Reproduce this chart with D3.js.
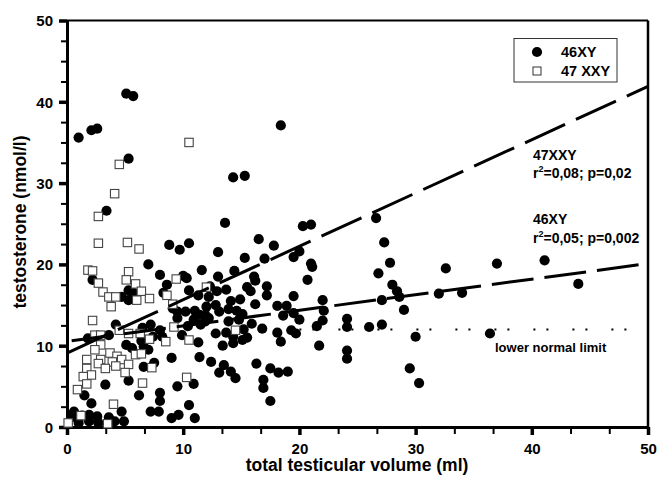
<!DOCTYPE html>
<html>
<head>
<meta charset="utf-8">
<script src="https://cdn.jsdelivr.net/npm/d3@7"></script>
<style>
  body { margin: 0; background: #fff; }
  svg { font-family: "Liberation Sans", Arial, sans-serif; font-weight: bold; }
</style>
</head>
<body>
<svg id="chart" width="658" height="480"></svg>
<script>
// tick values
const xTicks = [0, 10, 20, 30, 40, 50];
const yTicks = [0, 10, 20, 30, 40, 50];

// 46XY patients [volume, testosterone]
const pts46 = [
  [1.0,35.6],[2.1,36.5],[2.6,36.7],[5.1,41.0],[5.7,40.7],[5.3,33.0],[3.4,26.6],[14.3,30.7],[15.3,30.9],
  [13.6,25.1],[18.4,37.1],[20.3,24.7],[21.0,24.9],[26.6,25.7],[16.5,23.1],[17.8,22.3],[8.8,22.4],[10.5,22.6],
  [9.7,21.8],[13.0,21.5],[15.3,20.8],[7.0,20.0],[11.6,19.3],[8.0,18.7],[10.0,18.6],[10.3,18.3],[13.0,18.5],
  [14.4,19.2],[2.2,18.1],[8.6,17.5],[5.3,16.8],[5.7,16.5],[4.7,16.0],[5.3,15.6],[10.5,16.8],[8.3,16.5],
  [12.3,17.3],[12.9,16.7],[11.3,16.2],[12.2,16.0],[13.7,16.9],[14.1,15.5],[14.9,15.7],[15.5,17.2],[9.1,14.6],
  [9.5,14.2],[10.2,14.2],[9.5,13.4],[11.0,14.3],[12.0,14.8],[12.8,15.0],[13.1,14.2],[13.9,14.5],[14.6,14.3],
  [10.9,13.2],[12.2,13.4],[11.5,12.6],[10.4,12.4],[4.2,12.6],[7.2,12.6],[6.5,12.2],[8.0,11.9],[3.6,11.3],
  [1.8,10.9],[13.9,13.0],[14.8,13.2],[12.8,11.5],[13.7,11.6],[14.3,11.1],[9.9,11.3],[6.4,10.6],[7.4,11.1],
  [8.2,11.1],[5.1,10.1],[5.6,9.7],[6.6,9.9],[7.0,9.5],[11.3,10.4],[13.4,10.0],[14.3,10.3],[15.1,10.7],
  [15.5,11.0],[9.0,8.5],[11.4,8.6],[12.4,8.0],[6.6,7.4],[7.5,7.9],[13.5,7.6],[13.1,6.7],[14.1,6.8],
  [14.5,6.0],[5.3,5.7],[3.3,5.2],[9.5,5.0],[10.9,5.3],[1.5,3.9],[6.2,3.9],[8.0,4.2],[8.0,3.2],
  [2.1,2.9],[10.5,2.7],[4.7,1.9],[7.2,1.9],[7.9,1.9],[9.0,1.1],[9.6,1.5],[11.0,1.1],
  [0.6,1.9],[0.4,1.2],[1.3,1.4],[1.9,1.5],[2.6,1.3],[1.9,0.7],[2.7,0.5],[3.6,1.2],[4.1,0.7],[4.9,0.7],[1.0,0.5],
  [17.0,20.7],[19.5,20.9],[20.0,21.6],[21.0,20.1],[21.1,19.7],[16.1,18.5],[16.2,18.0],[20.7,18.1],[17.2,17.3],
  [15.8,16.7],[17.2,16.2],[19.5,16.1],[16.2,15.1],[18.1,14.9],[18.9,14.9],[22.0,15.6],[22.1,14.3],[15.1,13.9],
  [11.4,13.8],[11.9,13.8],[18.6,13.7],[19.5,14.0],[20.0,13.2],[22.0,13.1],[11.9,13.0],[15.9,12.7],[16.8,12.1],
  [18.1,11.6],[19.3,11.9],[21.5,12.4],[15.2,12.0],[19.7,11.5],[18.4,10.5],[21.7,10.0],[16.3,7.8],[17.5,7.2],
  [18.2,6.7],[19.0,6.8],[16.9,5.8],[16.9,4.8],[17.5,3.2],[24.1,13.3],[24.1,12.3],[24.1,9.4],[24.1,8.4],
  [27.3,22.7],[27.8,20.2],[26.8,18.9],[28.0,17.5],[28.4,16.7],[28.6,16.0],[32.6,19.5],[37.0,20.1],[27.1,15.6],
  [32.0,16.4],[34.0,16.5],[29.0,14.4],[26.0,12.3],[27.1,12.6],[30.0,11.1],[36.4,11.5],[29.5,7.2],[30.3,5.4],
  [41.1,20.5],[44.0,17.6]
];

// 47 XXY patients [volume, testosterone]
const pts47 = [
  [10.5,35.0],[4.5,32.3],[4.1,28.7],[2.7,25.9],[2.7,22.6],[5.2,22.7],[6.2,21.9],[1.8,19.3],[2.2,19.2],
  [5.3,19.1],[5.1,18.1],[2.7,17.7],[5.9,17.6],[3.1,16.6],[6.4,16.7],[3.6,16.0],[4.2,16.0],[6.0,15.6],
  [7.1,15.8],[3.8,14.8],[9.4,18.2],[8.6,16.2],[9.1,15.1],[12.0,17.2],[2.2,13.1],[4.5,11.9],[9.2,12.3],
  [2.4,11.3],[2.9,11.3],[5.3,11.5],[6.3,11.5],[7.1,10.8],[8.5,10.5],[10.5,10.7],[2.9,10.1],[2.4,9.5],
  [3.7,9.1],[4.3,8.7],[1.7,8.3],[2.9,8.3],[3.9,8.0],[4.7,8.3],[5.3,7.7],[5.9,8.9],[6.4,9.0],
  [1.7,7.2],[2.7,7.8],[3.3,7.2],[4.2,7.5],[7.3,7.3],[2.1,6.4],[1.4,6.2],[5.0,6.7],[1.7,5.3],
  [6.5,5.4],[10.3,6.1],[0.9,4.6],[4.0,2.8],[0.1,0.5],[3.5,0.4],[1.2,1.4],[14.5,11.9]
];

// regression lines and normal limit
const fit47 = [[0, 9.1], [50, 41.9]];
const fit46 = [[0.4, 10.6], [50, 20.1]];
const lowerLimit = [[20, 12], [50, 12]];

const svg = d3.select("#chart");

const x = d3.scaleLinear().domain([0, 50]).range([67, 648]);
const y = d3.scaleLinear().domain([0, 50]).range([427, 20.5]);

// frame top & right
svg.append("line").attr("x1", x(0)).attr("x2", x(50)).attr("y1", y(50)).attr("y2", y(50))
  .attr("stroke", "#000").attr("stroke-width", 2);
svg.append("line").attr("x1", x(50)).attr("x2", x(50)).attr("y1", y(50)).attr("y2", y(0))
  .attr("stroke", "#000").attr("stroke-width", 2.5);

// minor ticks
const minorX = d3.range(0, 50.01, 10 / 3).filter(v => Math.abs(v % 10) > 0.1 && Math.abs(v % 10 - 10) > 0.1);
const minorY = d3.range(0, 50.01, 2.5).filter(v => v % 10 !== 0);

svg.append("g").attr("transform", `translate(0,${y(0)})`)
  .call(d3.axisBottom(x).tickValues(minorX).tickSize(7).tickFormat(""))
  .call(g => g.select(".domain").remove())
  .selectAll("line").attr("stroke-width", 2);

svg.append("g").attr("transform", `translate(${x(0)},0)`)
  .call(d3.axisLeft(y).tickValues(minorY).tickSize(6).tickFormat(""))
  .call(g => g.select(".domain").remove())
  .selectAll("line").attr("stroke-width", 2);

// major axes
const xAxis = svg.append("g").attr("transform", `translate(0,${y(0)})`)
  .call(d3.axisBottom(x).tickValues(xTicks).tickSize(8).tickSizeOuter(0).tickPadding(8));
const yAxis = svg.append("g").attr("transform", `translate(${x(0)},0)`)
  .call(d3.axisLeft(y).tickValues(yTicks).tickSize(8).tickSizeOuter(0).tickPadding(6));

[xAxis, yAxis].forEach(a => {
  a.select(".domain").attr("stroke-width", 3);
  a.selectAll(".tick line").attr("stroke-width", 3.5);
  a.selectAll("text").attr("font-size", 15).attr("font-weight", "bold")
    .attr("font-family", "Liberation Sans, Arial, sans-serif").attr("fill", "#000");
});
yAxis.selectAll("text").attr("dy", "0.36em");

// axis titles
svg.append("text").attr("x", 357).attr("y", 471).attr("text-anchor", "middle")
  .attr("font-size", 17.5).text("total testicular volume (ml)");
svg.append("text").attr("transform", "translate(26,222) rotate(-90)").attr("text-anchor", "middle")
  .attr("font-size", 17.5).text("testosterone (nmol/l)");

// points
const pts = svg.append("g").attr('id', 'points');
pts.selectAll("circle")
  .data(pts46)
  .enter().append("circle")
  .attr("cx", d => x(d[0]))
  .attr("cy", d => y(d[1]))
  .attr("r", 5.1)
  .attr("fill", "#000");

pts.selectAll("rect")
  .data(pts47)
  .enter().append("rect")
  .attr("x", d => x(d[0]) - 4.2)
  .attr("y", d => y(d[1]) - 4.2)
  .attr("width", 8.4)
  .attr("height", 8.4)
  .attr("fill", "#fff")
  .attr("stroke", "#444")
  .attr("stroke-width", 1.1);

// lines
const line = d3.line().x(d => x(d[0])).y(d => y(d[1]));
svg.append("path").attr("d", line(fit47)).attr("fill", "none").attr("stroke", "#000")
  .attr("stroke-width", 3).attr("stroke-dasharray", "44,12");
svg.append("path").attr("d", line(fit46)).attr("fill", "none").attr("stroke", "#000")
  .attr("stroke-width", 3).attr("stroke-dasharray", "42,11");
svg.append("path").attr("d", line(lowerLimit)).attr("fill", "none").attr("stroke", "#000")
  .attr("stroke-width", 2).attr("stroke-dasharray", "2,11,2,24");

// annotations
const note = (tx, ty, txt, sz) => svg.append("text").attr("x", tx).attr("y", ty).attr("font-size", sz).text(txt);
note(533, 160, "47XXY", 14);
const r1 = note(533, 178, "r", 14);
r1.append("tspan").attr("dy", -6).attr("font-size", 9).text("2");
r1.append("tspan").attr("dy", 6).text("=0,08; p=0,02");
note(533, 224, "46XY", 14);
const r2 = note(533, 243, "r", 14);
r2.append("tspan").attr("dy", -6).attr("font-size", 9).text("2");
r2.append("tspan").attr("dy", 6).text("=0,05; p=0,002");
note(495, 352, "lower normal limit", 13);

// legend
const groups = ["46XY", "47 XXY"];
const legend = svg.append("g");
legend.append("rect").attr("x", 514).attr("y", 38.5).attr("width", 103).attr("height", 43.5)
  .attr("fill", "#fff").attr("stroke", "#333").attr("stroke-width", 1);
legend.append("circle").attr("cx", 537).attr("cy", 52).attr("r", 5.1).attr("fill", "#000");
legend.append("rect").attr("x", 533).attr("y", 67).attr("width", 8).attr("height", 8)
  .attr("fill", "#fff").attr("stroke", "#444").attr("stroke-width", 1.1);
legend.selectAll("text.lg").data(groups).enter().append("text").attr("class", "lg")
  .attr("x", 561).attr("y", (d, i) => 57 + i * 19).attr("font-size", 14.5).text(d => d);
</script>
</body>
</html>
